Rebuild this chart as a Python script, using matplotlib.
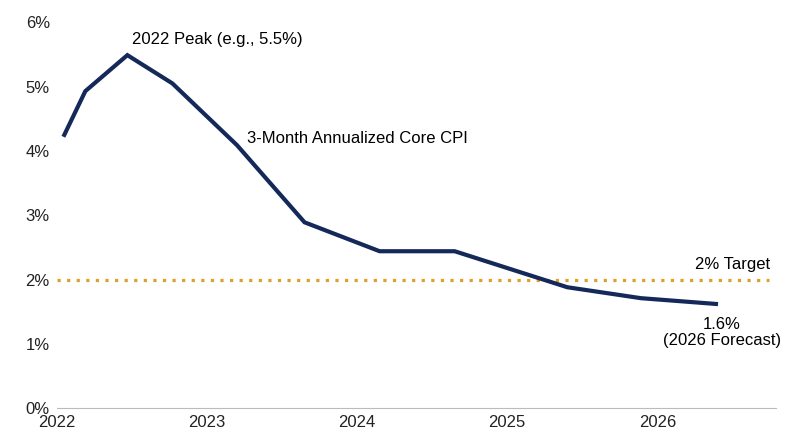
import matplotlib
matplotlib.use("Agg")
import matplotlib.pyplot as plt

# values (x in fractional years, y in %)
years = [2022.05, 2022.19, 2022.47, 2022.77, 2023.2, 2023.65, 2024.15, 2024.65, 2025.4, 2025.89, 2026.39]
core_cpi = [4.25, 4.93, 5.49, 5.05, 4.09, 2.89, 2.44, 2.44, 1.88, 1.71, 1.62]
target = 2.0
year_ticks = [2022, 2023, 2024, 2025, 2026]
pct_ticks = [0, 1, 2, 3, 4, 5, 6]

plt.rcParams["font.family"] = ["Liberation Sans", "DejaVu Sans"]
fig, ax = plt.subplots(figsize=(8, 4.47), dpi=100)
fig.subplots_adjust(left=0.071, right=0.97, top=0.95, bottom=0.087)

ax.axhline(target, color="#DDA02A", linestyle=(0, (1, 2)), linewidth=2.3, xmax=0.99)
ax.plot(years, core_cpi, color="#14295A", linewidth=3, solid_joinstyle="miter")

ax.set_xlim(2022, 2026.79)
ax.set_ylim(0, 6)
ax.set_xticks(year_ticks)
ax.set_xticklabels([str(y) for y in year_ticks])
ax.set_yticks(pct_ticks)
ax.set_yticklabels([f"{p}%" for p in pct_ticks])
ax.tick_params(labelsize=12, length=0, pad=5, colors="#222222")
for s in ["top", "right", "left"]:
    ax.spines[s].set_visible(False)
ax.spines["bottom"].set_color("#BBBBBB")

ax.text(2022.5, 5.62, "2022 Peak (e.g., 5.5%)", fontsize=12, ha="left", va="bottom")
ax.text(2023.27, 4.2, "3-Month Annualized Core CPI", fontsize=12, ha="left", va="center")
ax.text(2026.75, 2.12, "2% Target", fontsize=12, ha="right", va="bottom")
ax.text(2026.43, 1.42, "1.6%\n(2026 Forecast)", fontsize=12, ha="center", va="top", linespacing=1.1)

fig.savefig("out.png", dpi=100)
